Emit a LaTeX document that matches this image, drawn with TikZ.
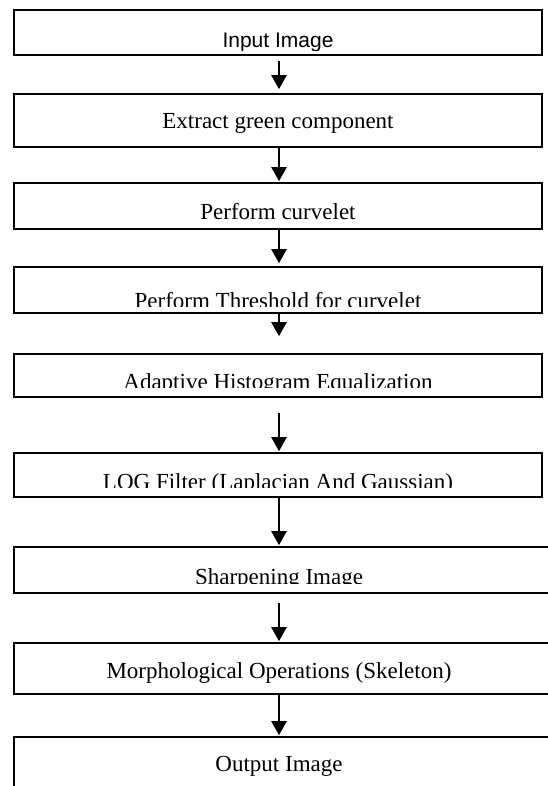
\documentclass[tikz,border=0pt]{standalone}
\usepackage{fontspec}
\setmainfont{Liberation Serif}
\newfontfamily\arialfont{Liberation Sans}
\usetikzlibrary{arrows.meta, positioning, calc}
\tikzset{
  box/.style={draw, line width=1.6pt, minimum width=528pt, inner sep=0pt},
  widebox/.style={box, minimum width=546pt},
  txt/.style={font=\fontsize{23}{27}\selectfont, inner sep=0pt, anchor=base},
  sanstxt/.style={txt, font=\arialfont\fontsize{21}{25}\selectfont},
  arr/.style={-{Triangle[length=14pt, width=15pt]}, line width=2.2pt},
}

\begin{document}
\begin{tikzpicture}[x=1pt, y=-1pt]
    \useasboundingbox (0,0) rectangle (547,786);
    \coordinate (axis) at (279,0);

    % process boxes
    \node[box, minimum height=45pt] (b1) at (278,32.5) {};
    \node[box, minimum height=53pt] (b2) at (278,120.5) {};
    \node[box, minimum height=46pt] (b3) at (278,206) {};
    \node[box, minimum height=46pt] (b4) at (278,290) {};
    \node[box, minimum height=43pt] (b5) at (278,375.5) {};
    \node[box, minimum height=44pt] (b6) at (278,475) {};
    \node[widebox, minimum height=46pt] (b7) at (287,570) {};
    \node[widebox, minimum height=51pt] (b8) at (287,668.5) {};
    \node[widebox, minimum height=63pt] (b9) at (287,768.5) {};

    % labels, some of them cut at the bottom
    \begin{scope}
      \clip (b1.north west) rectangle ([yshift=5pt]b1.south east);
      \node[sanstxt] (t1) at ([yshift=8pt]b1.south) {Input Image};
    \end{scope}
    \node[txt] (t2) at ([yshift=19pt]b2.south) {Extract green component};
    \node[txt] (t3) at ([yshift=10pt]b3.south) {Perform curvelet};
    \begin{scope}
      \clip (b4.north west) rectangle ([yshift=7pt]b4.south east);
      \node[txt] (t4) at ([yshift=5pt]b4.south) {Perform Threshold for curvelet};
    \end{scope}
    \begin{scope}
      \clip (b5.north west) rectangle ([yshift=10pt]b5.south east);
      \node[txt] (t5) at ([yshift=8pt]b5.south) {Adaptive Histogram Equalization};
    \end{scope}
    \begin{scope}
      \clip (b6.north west) rectangle ([yshift=10pt]b6.south east);
      \node[txt] (t6) at ([yshift=8pt]b6.south) {LOG Filter (Laplacian And Gaussian)};
    \end{scope}
    \begin{scope}
      \clip (b7.north west) rectangle ([yshift=10pt]b7.south east);
      \node[txt] (t7) at ([yshift=9pt]b7.south -| axis) {Sharpening Image};
    \end{scope}
    \node[txt] (t8) at ([yshift=16pt]b8.south -| axis) {Morphological Operations (Skeleton)};
    \node[txt] (t9) at ([yshift=-35pt]b9.north -| axis) {Output Image};

    % flow
    \draw[arr, shorten <=5pt, shorten >=4pt] (b1.south -| axis) -- (b2.north -| axis);
    \draw[arr, shorten >=1pt] (b2.south -| axis) -- (b3.north -| axis);
    \draw[arr, shorten >=3pt] (b3.south -| axis) -- (b4.north -| axis);
    \draw[arr, shorten >=17pt] (b4.south -| axis) -- (b5.north -| axis);
    \draw[arr, shorten <=15pt, shorten >=1pt] (b5.south -| axis) -- (b6.north -| axis);
    \draw[arr, shorten >=1pt] (b6.south -| axis) -- (b7.north -| axis);
    \draw[arr, shorten <=9pt, shorten >=1pt] (b7.south -| axis) -- (b8.north -| axis);
    \draw[arr, shorten >=1pt] (b8.south -| axis) -- (b9.north -| axis);
\end{tikzpicture}
\end{document}
